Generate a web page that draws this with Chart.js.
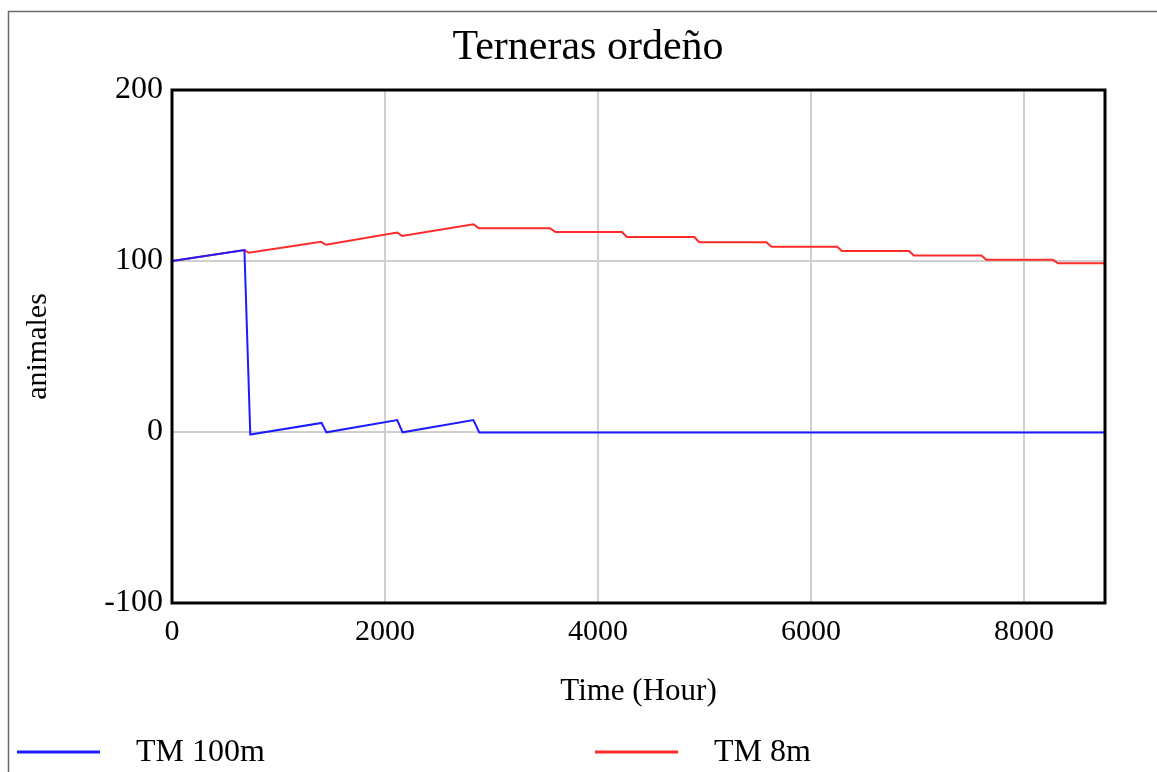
<!DOCTYPE html>
<html>
<head>
<meta charset="utf-8">
<script src="https://cdn.jsdelivr.net/npm/chart.js@4.4.0/dist/chart.umd.min.js"></script>
<style>
  html, body { margin: 0; padding: 0; background: #fff; }
  #wrap { width: 1157px; height: 772px; position: relative; }
</style>
</head>
<body>
<div id="wrap"><canvas id="myChart" width="1157" height="772"></canvas></div>
<script>
// hours and animal counts
const hours100 = [0, 680, 735, 1405, 1450, 2115, 2165, 2830, 2885, 8760];
const tm100    = [100, 106.4, -1.5, 5.3, -0.2, 7.0, -0.2, 7.0, -0.3, -0.3];

const hours8 = [0, 680, 720, 1400, 1445, 2115, 2160, 2830, 2880, 3550, 3600, 4225, 4270,
                4905, 4950, 5580, 5630, 6245, 6290, 6920, 6965, 7600, 7645, 8270, 8320, 8760];
const tm8    = [100, 106.4, 104.8, 111.2, 109.5, 116.7, 114.7, 121.5, 119.2, 119.2, 116.9, 116.9, 114.0,
                114.0, 111.0, 111.0, 108.3, 108.3, 105.9, 105.9, 103.2, 103.2, 100.7, 100.7, 98.7, 98.7];

const xTicks = [0, 2000, 4000, 6000, 8000];
const yTicks = [-100, 0, 100, 200];

const seriesNames = ["TM 100m", "TM 8m"];
const seriesColors = ["#1c1cff", "#ff2a2a"];

const FONT = "'Liberation Serif', 'Times New Roman', serif";

function toPoints(xs, ys) {
    var pts = [];
    for (var i in xs) {
        pts.push({x: xs[i], y: ys[i]});
    }
    return pts;
}

// frame, plot border, title and legend
const decor = {
    id: 'decor',
    beforeDraw(chart) {
        const c = chart.ctx;
        c.save();
        c.fillStyle = '#fff';
        c.fillRect(0, 0, chart.width, chart.height);
        c.strokeStyle = '#6a6a6a';
        c.lineWidth = 1.5;
        c.beginPath();
        c.moveTo(8.5, chart.height);
        c.lineTo(8.5, 11.5);
        c.lineTo(chart.width, 11.5);
        c.stroke();
        c.restore();
    },
    afterDraw(chart) {
        const c = chart.ctx;
        const a = chart.chartArea;
        c.save();
        c.strokeStyle = '#000';
        c.lineWidth = 3;
        c.strokeRect(a.left, a.top, a.right - a.left, a.bottom - a.top);

        c.fillStyle = '#000';
        c.font = '42px ' + FONT;
        c.textAlign = 'center';
        c.textBaseline = 'middle';
        c.fillText('Terneras ordeño', 588, 48);

        c.font = '32px ' + FONT;
        c.textAlign = 'left';
        const legX = [17, 595];
        for (var i = 0; i < seriesNames.length; i++) {
            c.strokeStyle = seriesColors[i];
            c.lineWidth = 3;
            c.beginPath();
            c.moveTo(legX[i], 752);
            c.lineTo(legX[i] + 83, 752);
            c.stroke();
            c.fillText(seriesNames[i], legX[i] + 119, 753);
        }
        c.restore();
    }
};

const ctx = document.getElementById('myChart').getContext('2d');
const chart = new Chart(ctx, {
    type: 'line',
    data: {
        datasets: [{
            label: seriesNames[0],
            data: toPoints(hours100, tm100),
            borderColor: seriesColors[0],
            borderWidth: 2,
            pointRadius: 0,
            tension: 0
        }, {
            label: seriesNames[1],
            data: toPoints(hours8, tm8),
            borderColor: seriesColors[1],
            borderWidth: 2,
            pointRadius: 0,
            tension: 0
        }]
    },
    options: {
        responsive: false,
        animation: false,
        layout: { padding: { top: 90, left: 0, right: 52, bottom: 52 } },
        plugins: {
            legend: { display: false },
            title: { display: false },
            tooltip: { enabled: false }
        },
        scales: {
            x: {
                type: 'linear',
                min: 0,
                max: 8760,
                afterFit: function(s) { s.height = 117; },
                afterBuildTicks: function(s) {
                    s.ticks = xTicks.map(function(v) { return {value: v}; });
                },
                ticks: {
                    color: '#000',
                    font: { family: FONT, size: 30 },
                    padding: 11,
                    maxRotation: 0,
                    callback: function(v) { return String(v); }
                },
                grid: { color: '#cfcfcf', lineWidth: 2, drawTicks: false },
                border: { display: false },
                title: {
                    display: true,
                    text: 'Time (Hour)',
                    color: '#000',
                    font: { family: FONT, size: 31 },
                    padding: { top: 0, bottom: 10 }
                }
            },
            y: {
                min: -100,
                max: 200,
                afterFit: function(s) { s.width = 172; },
                afterBuildTicks: function(s) {
                    s.ticks = yTicks.map(function(v) { return {value: v}; });
                },
                ticks: {
                    color: '#000',
                    font: { family: FONT, size: 32 },
                    padding: 9,
                    callback: function(v) { return String(v); }
                },
                grid: { color: '#cfcfcf', lineWidth: 2, drawTicks: false },
                border: { display: false },
                title: {
                    display: true,
                    text: 'animales',
                    color: '#000',
                    font: { family: FONT, size: 30 },
                    padding: { top: 20, bottom: 0 }
                }
            }
        }
    },
    plugins: [decor]
});
</script>
</body>
</html>
